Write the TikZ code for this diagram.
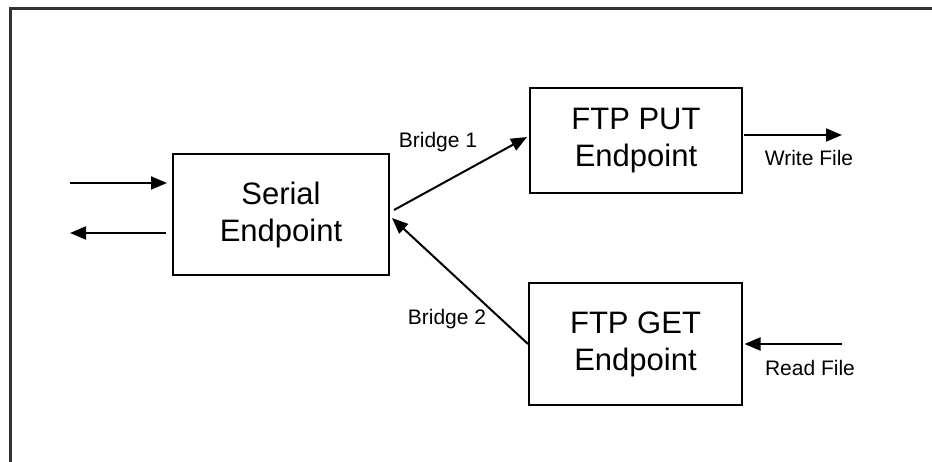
\documentclass[tikz,border=0pt]{standalone}
\usepackage{fontspec}
\setmainfont{Liberation Sans}
\usetikzlibrary{arrows.meta}
\begin{document}
\begin{tikzpicture}[x=1pt,y=-1pt,
  blockbox/.style={draw=black,line width=2pt,minimum width=#1,inner sep=0pt,align=center,
    font=\fontsize{31}{37}\selectfont},
  conn/.style={draw=black,line width=2pt,-{Triangle[length=16pt,width=13pt]}},
  lbl/.style={font=\fontsize{21}{25}\selectfont,inner sep=0pt}]
\useasboundingbox (0,0) rectangle (932,462);
\fill[white] (0,0) rectangle (932,462);
\draw[line width=3pt,black!80] (932,9) -- (10,9) -- (10,462);

\node[blockbox=216pt,minimum height=121pt] (serial) at (281,215) {Serial\\Endpoint};
\node[blockbox=212pt,minimum height=105pt] (put) at (636,140.5) {FTP PUT\\Endpoint};
\node[blockbox=213pt,minimum height=122pt] (get) at (635.5,344) {FTP GET\\Endpoint};

\coordinate (in1) at (70,183);
\coordinate (out1) at (70,233);
\coordinate (wr) at (842,135);
\coordinate (rd) at (842,344);

\draw[conn] (in1) -- ([shift={(-5,-32)}]serial.west);
\draw[conn] ([shift={(-6,18)}]serial.west) -- (out1);
\draw[conn] ([shift={(4,-5)}]serial.east) -- ([shift={(-2,-3.5)}]put.west);
\draw[conn] (get.west) -- ([shift={(2,3)}]serial.east);
\draw[conn] ([shift={(1,-5.5)}]put.east) -- (wr);
\draw[conn] (rd) -- ([xshift=1.5pt]get.east);

\node[lbl] (b1) at (438,142) {Bridge 1};
\node[lbl] (b2) at (447,319) {Bridge 2};
\node[lbl] (wf) at (809,158) {Write File};
\node[lbl] (rf) at (810,368) {Read File};
\end{tikzpicture}
\end{document}
